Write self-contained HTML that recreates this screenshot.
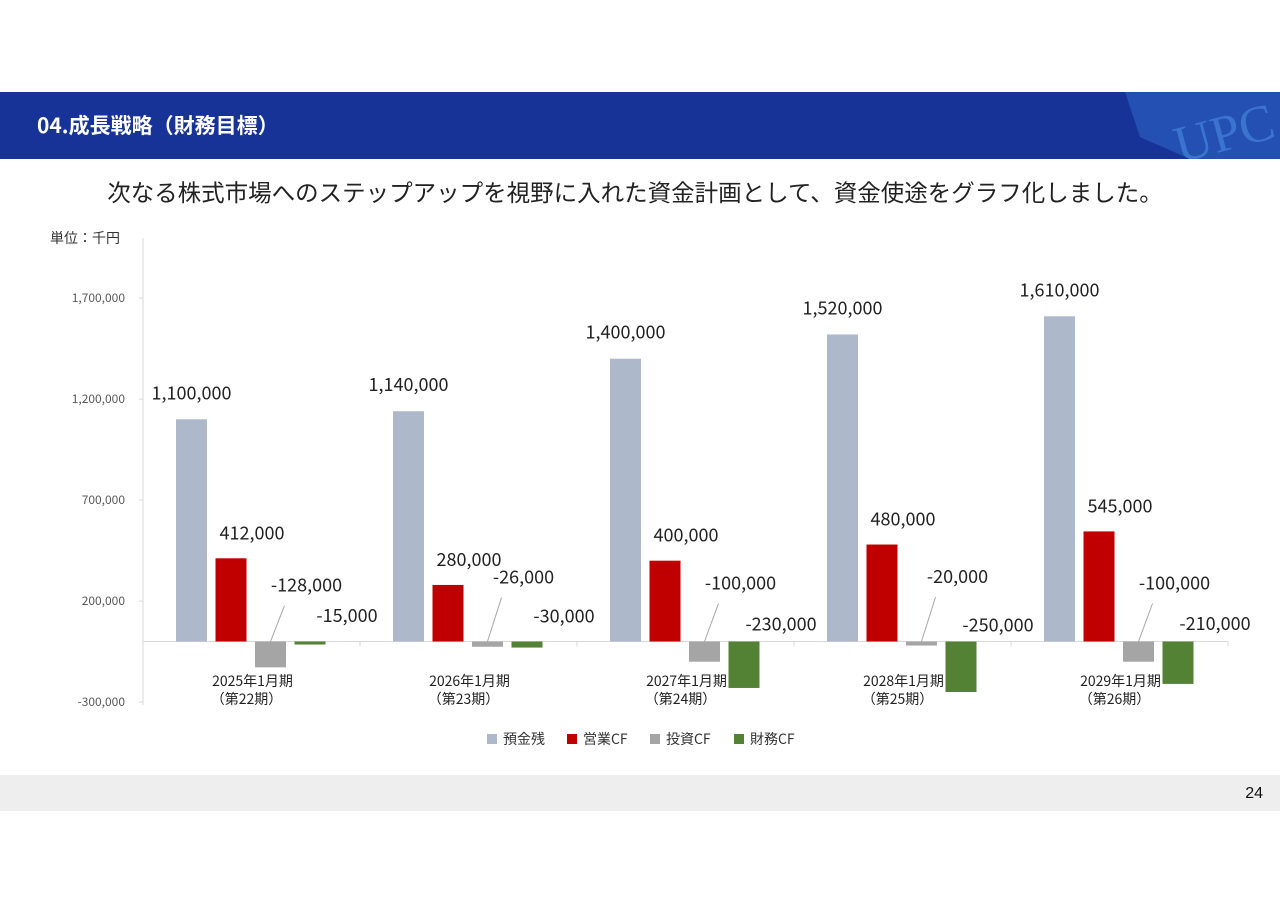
<!DOCTYPE html>
<html><head><meta charset="utf-8">
<style>
body{margin:0;width:1280px;height:905px;background:#fff;position:relative;overflow:hidden;font-family:"Liberation Sans","Noto Sans CJK JP",sans-serif;}
.hdr{position:absolute;left:0;top:92px;width:1280px;height:67px;background:#183397;}
.hdr h1{position:absolute;left:37px;top:18px;margin:0;font-size:21px;font-weight:bold;color:#fff;font-family:"Noto Sans CJK JP",sans-serif;}
.sub{position:absolute;left:0;width:1270px;top:174px;text-align:center;font-size:23.5px;color:#222;font-family:"Noto Sans CJK JP",sans-serif;line-height:34px;}
.foot{position:absolute;left:0;top:775px;width:1280px;height:36px;background:#eeeeee;}
.foot span{position:absolute;right:17px;top:10px;font-size:16px;color:#111;}
svg{position:absolute;left:0;top:0;}
#chart text{font-family:"Noto Sans CJK JP",sans-serif;}
</style></head><body>
<div class="hdr"><h1>04.成長戦略（財務目標）</h1>
<svg width="1280" height="67" style="left:0;top:0"><path d="M1125 0 L1280 0 L1280 67 L1190 67 L1140 45 Z" fill="#2a5cc0" opacity="0.7"/><text x="1175" y="65" font-family="Liberation Serif,serif" font-size="52" fill="#3a74d0" transform="rotate(-15 1200 50)">UPC</text></svg>
</div>
<div class="sub">次なる株式市場へのステップアップを視野に入れた資金計画として、資金使途をグラフ化しました。</div>
<div class="foot"><span>24</span></div>
<svg id="chart" width="1280" height="905"></svg>
<script>
const categories=["2025年1月期","2026年1月期","2027年1月期","2028年1月期","2029年1月期"];
const periods=["（第22期）","（第23期）","（第24期）","（第25期）","（第26期）"];
const seriesNames=["預金残","営業CF","投資CF","財務CF"];
const deposit=[1100000,1140000,1400000,1520000,1610000];
const opCF=[412000,280000,400000,480000,545000];
const invCF=[-128000,-26000,-100000,-20000,-100000];
const finCF=[-15000,-30000,-230000,-250000,-210000];
const ticks=[1700000,1200000,700000,200000,-300000];
const colors=["#adb9ca","#c00000","#a5a5a5","#548235"];
const S=document.getElementById('chart'),NS="http://www.w3.org/2000/svg";
function el(t,a,p){const e=document.createElementNS(NS,t);for(const k in a)e.setAttribute(k,a[k]);(p||S).appendChild(e);return e;}
const y=v=>641.5-v*0.000202;
const x0=143,gw=217;
const fmt=v=>v.toLocaleString('en-US');
let ax=el('line',{x1:x0,y1:238,x2:x0,y2:705,stroke:'#d9d9d9'});


let zl=el('line',{x1:x0,y1:y(0),x2:x0+gw*5,y2:y(0),stroke:'#d9d9d9'});


let ut=el('text',{x:50,y:243,'font-size':14,fill:'#333'});ut.textContent='単位：千円';


ticks.forEach(t=>{
  let tx=el('text',{x:125,y:y(t)+4,'font-size':12,fill:'#595959','text-anchor':'end'});tx.textContent=fmt(t);
  
  
  el('line',{x1:x0-4,y1:y(t),x2:x0,y2:y(t),stroke:'#d9d9d9'});
});
const all=[deposit,opCF,invCF,finCF];
categories.forEach((c,i)=>{
  const gx=x0+gw*i;
  el('line',{x1:gx+gw,y1:y(0),x2:gx+gw,y2:y(0)+5,stroke:'#d9d9d9'});
  all.forEach((arr,s)=>{
    const v=arr[i],bx=gx+33+s*39.5,bw=31;
    const r=el('rect',{x:bx,y:Math.min(y(v),y(0)),width:bw,height:Math.abs(y(v)-y(0)),fill:colors[s]});
    
    
    let lx,ly;
    if(s===0){lx=bx+bw/2;ly=y(v)-20;}
    else if(s===1){lx=bx+bw/2+21;ly=y(v)-19;}
    else if(s===2){lx=bx+bw/2+36;ly=y(0)-60-v*0.00008;el('line',{x1:bx+bw/2,y1:y(0),x2:bx+bw/2+14,y2:ly+14,stroke:'#a6a6a6'});}
    else {lx=bx+bw/2+37;ly=y(0)-20-v*0.00004;}
    const t=el('text',{x:lx,y:ly,'font-size':18,fill:'#222','text-anchor':'middle'});t.textContent=fmt(v);
    
    
  });
  const cl=el('text',{x:gx+gw/2+1,y:686,'font-size':14,fill:'#222','text-anchor':'middle'});cl.textContent=c;
  
  
  const pl=el('text',{x:gx+gw/2-5,y:704,'font-size':14,fill:'#222','text-anchor':'middle'});pl.textContent=periods[i];
  
  
});
const lxs=[487,567,650,734];
seriesNames.forEach((n,s)=>{
  const g=el('g',{});
  
  
  el('rect',{x:lxs[s],y:734,width:10,height:10,fill:colors[s]},g);
  const t=el('text',{x:lxs[s]+16,y:744,'font-size':14,fill:'#333'},g);t.textContent=n;
});
</script>
</body></html>
